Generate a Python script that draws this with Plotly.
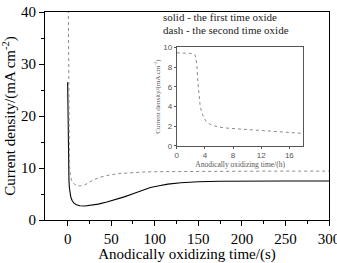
import plotly.graph_objects as go

# Main chart data (time in s, current density in mA cm^-2)
t_solid = [0, 0.3, 0.6, 1.0, 1.5, 2.0, 2.5, 3.5, 5, 7, 10, 14, 20, 26, 35, 45, 55, 65, 75, 85, 95, 105, 115, 130, 150, 175, 200, 250, 300]
j_solid = [26.5, 20, 14, 10, 7.6, 6.2, 5.3, 4.5, 3.8, 3.3, 2.95, 2.75, 2.7, 2.8, 3.05, 3.45, 3.9, 4.45, 5.05, 5.7, 6.25, 6.6, 6.9, 7.15, 7.35, 7.45, 7.5, 7.5, 7.5]

t_dash = [0, 0.4, 0.8, 1.2, 1.6, 2.0, 2.5, 3.2, 4.2, 6, 8, 11, 15, 19, 24, 30, 38, 48, 60, 75, 90, 110, 140, 180, 230, 300]
j_dash = [60, 44, 30, 20, 14, 11, 9.4, 8.4, 7.7, 7.15, 6.85, 6.6, 6.55, 6.7, 7.2, 7.75, 8.25, 8.65, 8.95, 9.15, 9.25, 9.3, 9.35, 9.4, 9.4, 9.4]

# Inset data (time in h)
t_inset = [0, 1, 2, 2.6, 2.85, 3.0, 3.15, 3.3, 3.5, 3.8, 4.2, 4.7, 5.2, 6, 7, 8, 10, 12, 14, 16, 18]
j_inset = [9.45, 9.42, 9.38, 9.25, 8.3, 6.5, 5.0, 4.2, 3.5, 2.9, 2.45, 2.2, 2.05, 1.9, 1.8, 1.75, 1.65, 1.55, 1.45, 1.35, 1.25]

x_ticks = [0, 50, 100, 150, 200, 250, 300]
y_ticks = [0, 10, 20, 30, 40]
inset_x_ticks = [0, 4, 8, 12, 16]
inset_y_ticks = [0, 2, 4, 6, 8, 10]

serif = "Liberation Serif"
sans = "Liberation Sans"
inset_col = "#555555"

fig = go.Figure()
fig.add_trace(go.Scatter(x=t_solid, y=j_solid, mode="lines",
                         line=dict(color="black", width=1.1), showlegend=False))
fig.add_trace(go.Scatter(x=t_dash, y=j_dash, mode="lines",
                         line=dict(color="#8a8a8a", width=1, dash="dot"), showlegend=False))
fig.add_trace(go.Scatter(x=t_inset, y=j_inset, mode="lines", xaxis="x2", yaxis="y2",
                         line=dict(color="#8a8a8a", width=1, dash="dot"), showlegend=False))

fig.update_layout(
    width=337, height=263,
    margin=dict(l=45, r=8, t=12, b=43, autoexpand=False),
    paper_bgcolor="white", plot_bgcolor="white",
    xaxis=dict(range=[-26, 300], tickvals=x_ticks, ticks="outside", ticklen=5,
               tickwidth=1, tickcolor="black", ticklabeloverflow="allow", automargin=False,
               minor=dict(ticks="outside", ticklen=3, tickvals=[25, 75, 125, 175, 225, 275], tickcolor="black"),
               showline=True, linecolor="black", linewidth=1, mirror=True,
               showgrid=False, zeroline=False,
               tickfont=dict(family=serif, size=15, color="black"),
               title=dict(text="Anodically oxidizing time/(s)", standoff=10,
                          font=dict(family=serif, size=15, color="black"))),
    yaxis=dict(range=[0, 40], tickvals=y_ticks, ticks="outside", ticklen=5,
               tickwidth=1, tickcolor="black", automargin=False,
               minor=dict(ticks="outside", ticklen=3, tickvals=[5, 15, 25, 35], tickcolor="black"),
               showline=True, linecolor="black", linewidth=1, mirror=True,
               showgrid=False, zeroline=False,
               tickfont=dict(family=serif, size=15, color="black"),
               title=dict(text="Current density/(mA cm<sup>-2</sup>)", standoff=5,
                          font=dict(family=serif, size=15, color="black"))),
    xaxis2=dict(domain=[0.464, 0.910], anchor="y2", range=[0, 18], tickvals=inset_x_ticks,
                ticks="outside", ticklen=2, tickcolor=inset_col, automargin=False,
                showline=True, linecolor=inset_col, linewidth=1, mirror=True,
                showgrid=False, zeroline=False,
                tickfont=dict(family=sans, size=8, color=inset_col),
                title=dict(text="Anodically oxidizing time/(h)", standoff=1,
                           font=dict(family=serif, size=7.5, color=inset_col))),
    yaxis2=dict(domain=[0.357, 0.830], anchor="x2", range=[0, 10], tickvals=inset_y_ticks,
                ticks="outside", ticklen=2, tickcolor=inset_col, automargin=False,
                showline=True, linecolor=inset_col, linewidth=1, mirror=True,
                showgrid=False, zeroline=False,
                tickfont=dict(family=sans, size=8, color=inset_col),
                title=dict(text="Current density/(mA cm<sup>-2</sup>)", standoff=1,
                           font=dict(family=serif, size=7, color=inset_col))),
    annotations=[
        dict(text="solid - the first time oxide", x=0.409, y=0.975, xref="paper", yref="paper",
             xanchor="left", yanchor="middle", showarrow=False,
             font=dict(family=serif, size=11, color="#222")),
        dict(text="dash - the second time oxide", x=0.409, y=0.912, xref="paper", yref="paper",
             xanchor="left", yanchor="middle", showarrow=False,
             font=dict(family=serif, size=11, color="#222")),
    ],
)

fig.write_html("out.html")
